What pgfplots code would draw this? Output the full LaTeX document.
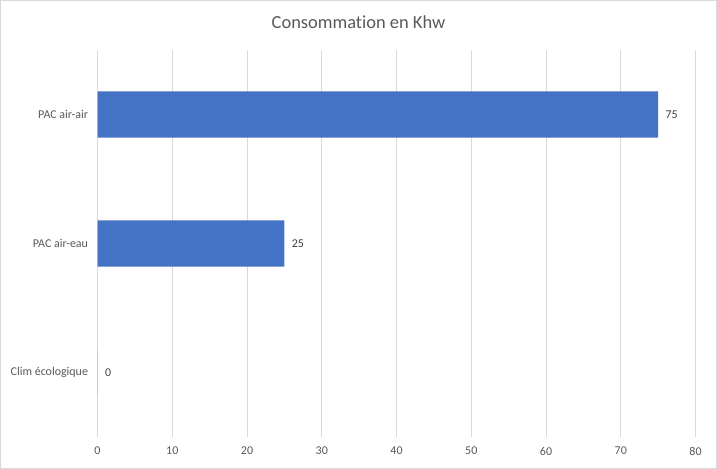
\documentclass[border=0pt]{standalone}
\usepackage{pgfplots}
\pgfplotsset{compat=1.18}
\usepackage{fontspec}
\setmainfont{Carlito}[Ligatures=CommonOff]
\definecolor{barblue}{HTML}{4472C4}
\definecolor{gridgrey}{HTML}{D9D9D9}
\definecolor{txtgrey}{HTML}{595959}
\definecolor{lblgrey}{HTML}{404040}
\definecolor{framegrey}{HTML}{D9D9D9}

\begin{document}
\begin{tikzpicture}[x=1bp,y=1bp]
	\useasboundingbox (0,0) rectangle (717,469);
	\fill[white] (0,0) rectangle (717,469);
	\draw[framegrey] (0.5,0.5) rectangle (716.5,468.5);
	\node[txtgrey,font=\fontsize{18.5}{22}\selectfont] at (358.5,447) {Consommation en Khw};
	\begin{axis}[
		at={(97.5bp,32bp)}, anchor=south west,
		scale only axis, width=598bp, height=387bp,
		xbar, bar width=0.357,
		xmin=0, xmax=80, xtick={0,10,...,80},
		ymin=-0.5, ymax=2.5, ytick={0,1,2},
		yticklabels={Clim écologique, PAC air-eau, PAC air-air},
		axis line style={draw=none}, major tick length=0pt,
		xmajorgrids, grid style={gridgrey, line width=0.75bp},
		tick label style={txtgrey, font=\fontsize{12}{14}\selectfont},
		/pgf/number format/assume math mode=true,
		xticklabel style={yshift=-6.5bp},
		yticklabel style={xshift=-6bp},
		nodes near coords,
		every node near coord/.append style={lblgrey, font=\fontsize{12}{14}\selectfont, xshift=4bp},
	]
	\addplot[fill=barblue, draw=none] coordinates {(0,0) (25,1) (75,2)};
	\end{axis}
\end{tikzpicture}
\end{document}
